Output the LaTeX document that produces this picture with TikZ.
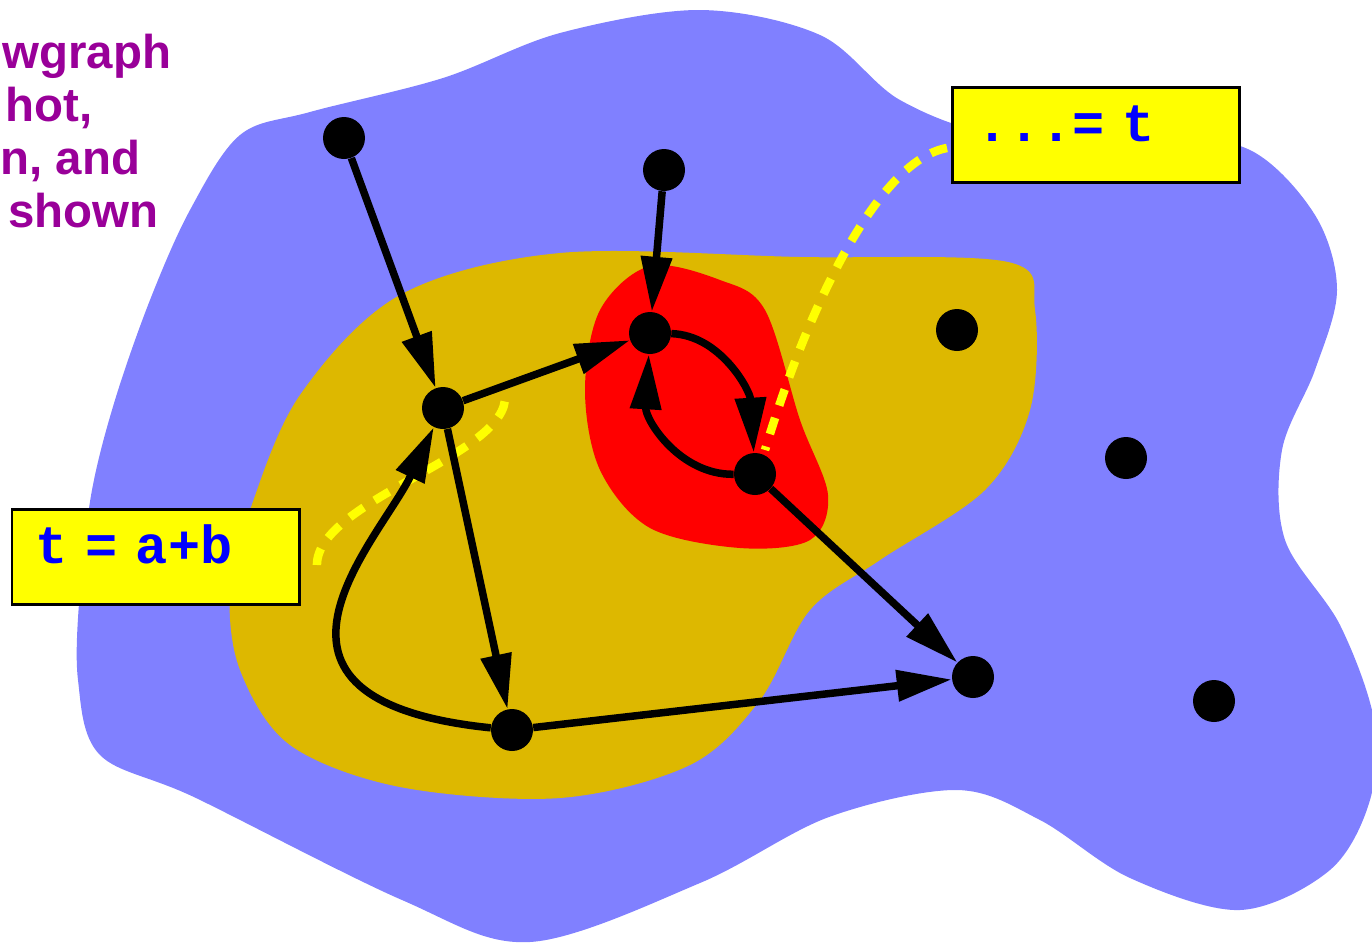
\documentclass[tikz,border=0pt]{standalone}
\usepackage{fontspec}
\setmainfont{Liberation Sans}
\setmonofont{Liberation Mono}
\usetikzlibrary{arrows.meta}
\definecolor{blobblue}{HTML}{8080FF}
\definecolor{blobgold}{HTML}{DDB800}
\definecolor{blobred}{HTML}{FF0000}
\definecolor{notefill}{HTML}{FFFF00}
\definecolor{codeblue}{HTML}{0000FF}
\definecolor{titlepurple}{HTML}{990099}

\begin{document}
\begin{tikzpicture}[x=0.02cm, y=-0.02cm,
  vertex/.style={circle, fill=black, minimum size=0.84cm, inner sep=0pt},
  flow/.style={-{Triangle[length=1.1cm, width=0.6cm]}, line width=0.15cm, draw=black},
  note/.style={draw=black, fill=notefill, line width=0.06cm, anchor=north west, outer sep=0pt, minimum width=5.76cm, minimum height=1.92cm, text width=4.8cm, inner xsep=0.48cm, align=left, text height=0.26cm, text depth=0pt, text=codeblue, font=\ttfamily\bfseries\fontsize{30.5}{32}\selectfont},
  hint/.style={draw=notefill, line width=0.17cm, dash pattern=on 0.34cm off 0.26cm},
  caption/.style={anchor=base west, inner sep=0pt, text=titlepurple, font=\bfseries\fontsize{27}{30}\selectfont}]
  \useasboundingbox (0,0) rectangle (1372,944);
  % regions
  \fill[blobblue] plot[smooth cycle, tension=0.55] coordinates {(310,112) (443,78) (560,33) (700,10) (820,35) (900,100) (1000,135) (1150,135) (1250,150) (1315,215) (1337,290) (1315,370) (1282,450) (1285,540) (1340,625) (1374,720) (1370,800) (1330,870) (1240,910) (1130,878) (1040,820) (957,790) (829,817) (700,883) (530,942) (402,900) (196,798) (100,755) (78,680) (80,590) (92,490) (115,400) (150,300) (190,210) (240,135)};
  \fill[blobgold] plot[smooth cycle, tension=0.55] coordinates {(250,510) (300,395) (400,295) (560,253) (800,257) (1008,262) (1035,310) (1030,410) (985,490) (880,560) (810,610) (760,700) (690,765) (560,798) (400,787) (290,745) (240,670) (230,590)};
  \fill[blobred] plot[smooth cycle, tension=0.55] coordinates {(600,310) (650,266) (720,280) (765,310) (800,420) (828,495) (810,540) (740,548) (650,528) (600,470) (585,390)};
  % caption
  \foreach \txt/\xo [count=\i] in {wgraph/2, {hot,}/5, {n, and}/0, shown/8}
    \node[caption] (caption\i) at (\xo,14.7+53.3*\i) {\txt};
  % notes
  \node[note] (defnote) at (12,509) {t = a+b};
  \node[note] (usenote) at (952,87) {...= t};
  \coordinate (defend) at (505,395);
  \coordinate (useend) at (765,450);
  \draw[hint] ([xshift=0.34cm, yshift=-0.16cm]defnote.east) .. controls (317,500) and (510,455) .. (defend);
  \draw[hint] ([xshift=-0.1cm, yshift=-0.26cm]usenote.west) .. controls (880,160) and (810,300) .. (useend);
  % vertices
  \node[vertex] (entry) at (344,138) {};
  \node[vertex] (entryb) at (664,170) {};
  \node[vertex] (head) at (650,333) {};
  \node[vertex] (tail) at (755,474) {};
  \node[vertex] (join) at (443,408) {};
  \node[vertex] (low) at (512,730) {};
  \node[vertex] (exit) at (973,677) {};
  \node[vertex] (farA) at (957,330) {};
  \node[vertex] (farB) at (1126,458) {};
  \node[vertex] (farC) at (1214,701) {};
  % edges
  \draw[flow] (entry) -- (join);
  \draw[flow] (entryb) -- (head);
  \draw[flow] (join) -- (head);
  \draw[flow] (join) -- (low);
  \draw[flow] (low) -- (exit);
  \draw[flow] (tail) -- (exit);
  \draw[flow] (head) .. controls (720,335) and (750,390) .. (tail);
  \draw[flow] (tail) .. controls (680,475) and (645,420) .. (head);
  \draw[flow] (low) .. controls (220,700) and (380,540) .. (join);
\end{tikzpicture}
\end{document}
